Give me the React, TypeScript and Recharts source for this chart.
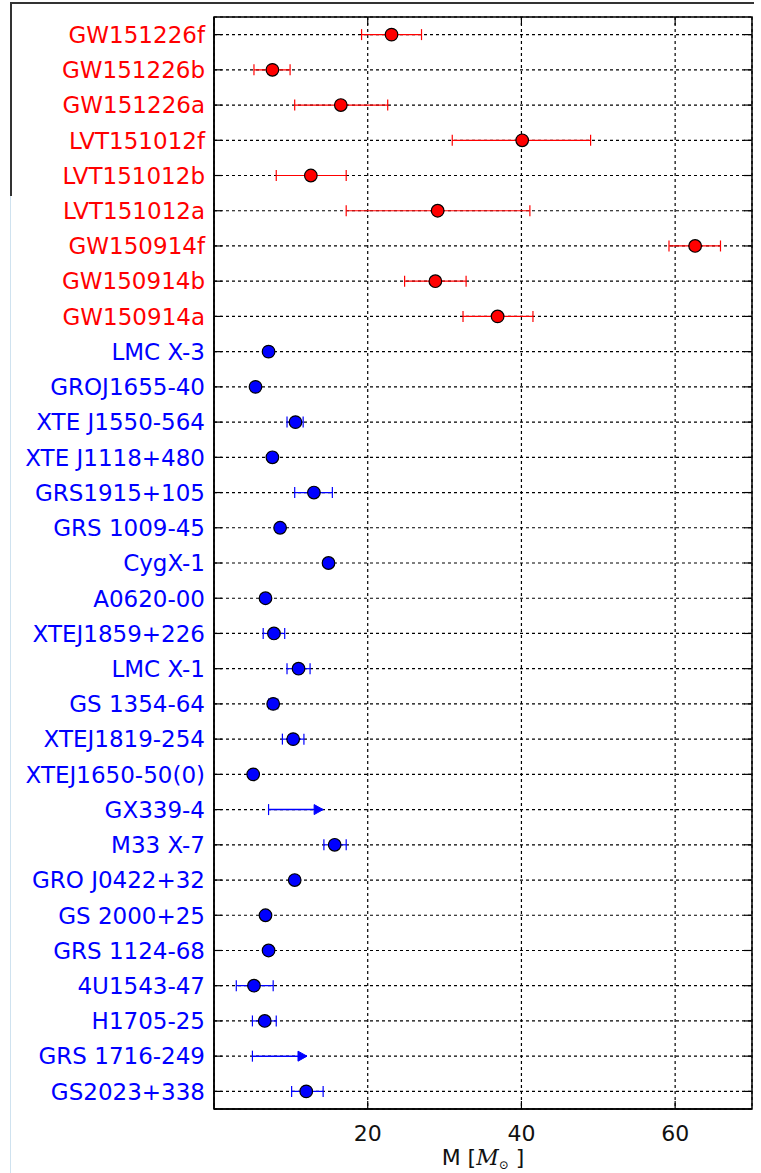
import {
  ScatterChart,
  Scatter,
  XAxis,
  YAxis,
  CartesianGrid,
  ErrorBar,
  ReferenceArea,
  ReferenceLine,
} from "recharts";

// gravitational-wave events (top block, red)
const gwNames = [
  "GW151226f",
  "GW151226b",
  "GW151226a",
  "LVT151012f",
  "LVT151012b",
  "LVT151012a",
  "GW150914f",
  "GW150914b",
  "GW150914a",
];
const gwMass = [23.1, 7.6, 16.5, 40.1, 12.6, 29.1, 62.6, 28.8, 36.9];
const gwLow = [19.2, 5.2, 10.5, 31.0, 8.1, 17.2, 59.2, 24.8, 32.4];
const gwHigh = [27.0, 9.9, 22.6, 49.0, 17.2, 41.1, 65.9, 32.8, 41.5];

// X-ray binaries (blue); null = only a lower limit is known
const xrbNames = [
  "LMC X-3",
  "GROJ1655-40",
  "XTE J1550-564",
  "XTE J1118+480",
  "GRS1915+105",
  "GRS 1009-45",
  "CygX-1",
  "A0620-00",
  "XTEJ1859+226",
  "LMC X-1",
  "GS 1354-64",
  "XTEJ1819-254",
  "XTEJ1650-50(0)",
  "GX339-4",
  "M33 X-7",
  "GRO J0422+32",
  "GS 2000+25",
  "GRS 1124-68",
  "4U1543-47",
  "H1705-25",
  "GRS 1716-249",
  "GS2023+338",
];
const xrbMass = [
  7.1, 5.4, 10.6, 7.6, 13.0, 8.6, 14.9, 6.7, 7.8, 11.0, 7.7, 10.3, 5.1, null,
  15.7, 10.5, 6.7, 7.1, 5.2, 6.6, null, 12.0,
];
const xrbLow = [
  6.6, 5.2, 9.5, 7.1, 10.5, 8.4, 14.8, 6.5, 6.4, 9.5, 7.1, 8.9, 5.0, null,
  14.3, 10.3, 6.5, 6.6, 2.9, 5.0, null, 10.1,
];
const xrbHigh = [
  7.6, 5.6, 11.6, 8.1, 15.4, 8.8, 15.0, 6.9, 9.2, 12.5, 8.3, 11.7, 5.2, null,
  17.2, 10.7, 6.9, 7.6, 7.7, 8.1, null, 14.2,
];

const limitNames = ["GX339-4", "GRS 1716-249"];
const limitFrom = [7.1, 5.0];
const limitTo = [14.2, 12.1];

const xTicks = [20, 40, 60];

const RED = "#ff0000";
const BLUE = "#0000ff";
const FONT = "DejaVu Sans";
const W = 761;
const H = 1173;
const LEFT = 214;
const TOP = 17;
const RIGHT = 9;
const XAXIS_H = 64;
const PLOT_W = W - LEFT - RIGHT;
const PLOT_H = H - TOP - XAXIS_H;

const names = [...gwNames, ...xrbNames];
const rowTicks = names.map((_, i) => i);

const gwData = gwNames.map((n, i) => ({
  row: i,
  m: gwMass[i],
  err: [gwMass[i] - gwLow[i], gwHigh[i] - gwMass[i]],
}));

const xrbData = xrbNames
  .map((n, i) => ({
    row: gwNames.length + i,
    m: xrbMass[i],
    err: [
      (xrbMass[i] ?? 0) - (xrbLow[i] ?? 0),
      (xrbHigh[i] ?? 0) - (xrbMass[i] ?? 0),
    ],
  }))
  .filter((d) => d.m !== null);

const limitTail = limitNames.map((n, i) => ({ row: names.indexOf(n), m: limitFrom[i] }));
const limitHead = limitNames.map((n, i) => ({ row: names.indexOf(n), m: limitTo[i] }));

function NameTick(props: any) {
  const { x, y, payload } = props;
  const i = payload.value as number;
  const color = i < gwNames.length ? RED : BLUE;
  return (
    <g>
      <line x1={x} x2={x + 8} y1={y} y2={y} stroke="#000" strokeWidth={1.2} />
      <line x1={x + PLOT_W - 8} x2={x + PLOT_W} y1={y} y2={y} stroke="#000" strokeWidth={1.2} />
      <text
        x={x - 9}
        y={y}
        dy="0.36em"
        textAnchor="end"
        fill={color}
        fontSize={23}
        fontFamily={FONT}
      >
        {names[i]}
      </text>
    </g>
  );
}

function MassTick(props: any) {
  const { x, y, payload } = props;
  return (
    <g>
      <line x1={x} x2={x} y1={y} y2={y - 8} stroke="#000" strokeWidth={1.2} />
      <line x1={x} x2={x} y1={y - PLOT_H} y2={y - PLOT_H + 8} stroke="#000" strokeWidth={1.2} />
      <text x={x} y={y + 24} dy="0.36em" textAnchor="middle" fill="#111" fontSize={22} fontFamily={FONT}>
        {payload.value}
      </text>
    </g>
  );
}

function MassLabel(props: any) {
  const vb = props.viewBox || {};
  const cx = (vb.x ?? LEFT) + (vb.width ?? PLOT_W) / 2;
  const y = (vb.y ?? TOP + PLOT_H) + 56;
  return (
    <text x={cx} y={y} textAnchor="middle" fontSize={22} fill="#111" fontFamily={FONT}>
      <tspan>M [</tspan>
      <tspan fontFamily="DejaVu Serif" fontStyle="italic">M</tspan>
      <tspan fontFamily="DejaVu Serif" fontSize={12} dy={4}>⊙</tspan>
      <tspan dy={-4}> ]</tspan>
    </text>
  );
}

const dot = (color: string) => (p: any) =>
  <circle cx={p.cx} cy={p.cy} r={6.3} fill={color} stroke="#000" strokeWidth={1.2} />;

const tailCap = (p: any) =>
  <line x1={p.cx} x2={p.cx} y1={p.cy - 5.5} y2={p.cy + 5.5} stroke={BLUE} strokeWidth={1.2} />;

const arrowHead = (p: any) => (
  <polygon
    points={`${p.cx},${p.cy} ${p.cx - 9},${p.cy - 5} ${p.cx - 9},${p.cy + 5}`}
    fill={BLUE}
    stroke={BLUE}
    strokeWidth={1}
  />
);

export default function App() {
  return (
    <div style={{ position: "absolute", left: 0, top: 0, width: W, height: H, background: "#fff" }}>
      <div style={{ position: "absolute", left: 10, top: 2, width: 744, height: 2, background: "#333" }} />
      <div style={{ position: "absolute", left: 10, top: 2, width: 2, height: 194, background: "#333" }} />
      <div style={{ position: "absolute", left: 10, top: 196, width: 1, height: 977, background: "#cfe2ef" }} />
      <ScatterChart
        width={W}
        height={H}
        margin={{ top: TOP, right: RIGHT, bottom: 0, left: 0 }}
        style={{ position: "absolute", left: 0, top: 0 }}
      >
        <CartesianGrid stroke="#000" strokeDasharray="3 3" strokeWidth={1.2} />
        <XAxis
          type="number"
          dataKey="m"
          domain={[0, 70]}
          ticks={xTicks}
          height={XAXIS_H}
          tickSize={0}
          tickMargin={0}
          tickLine={false}
          axisLine={{ stroke: "#000", strokeWidth: 1.5 }}
          tick={<MassTick />}
          label={<MassLabel />}
          allowDataOverflow
        />
        <YAxis
          type="number"
          dataKey="row"
          domain={[-0.5, names.length - 0.5]}
          reversed
          ticks={rowTicks}
          interval={0}
          width={LEFT}
          tickSize={0}
          tickMargin={0}
          tickLine={false}
          axisLine={{ stroke: "#000", strokeWidth: 1.5 }}
          tick={<NameTick />}
          allowDataOverflow
        />
        <ReferenceArea
          x1={0}
          x2={70}
          y1={-0.5}
          y2={names.length - 0.5}
          fill="none"
          stroke="#000"
          strokeWidth={1.5}
        />
        {limitNames.map((n, i) => (
          <ReferenceLine
            key={n}
            segment={[
              { x: limitFrom[i], y: names.indexOf(n) },
              { x: limitTo[i], y: names.indexOf(n) },
            ]}
            stroke={BLUE}
            strokeWidth={1.5}
          />
        ))}
        <Scatter data={gwData} shape={dot(RED)} isAnimationActive={false}>
          <ErrorBar dataKey="err" direction="x" stroke={RED} strokeWidth={1.2} width={5.5} isAnimationActive={false} />
        </Scatter>
        <Scatter data={xrbData} shape={dot(BLUE)} isAnimationActive={false}>
          <ErrorBar dataKey="err" direction="x" stroke={BLUE} strokeWidth={1.2} width={5.5} isAnimationActive={false} />
        </Scatter>
        <Scatter data={limitTail} shape={tailCap} isAnimationActive={false} />
        <Scatter data={limitHead} shape={arrowHead} isAnimationActive={false} />
      </ScatterChart>
    </div>
  );
}
